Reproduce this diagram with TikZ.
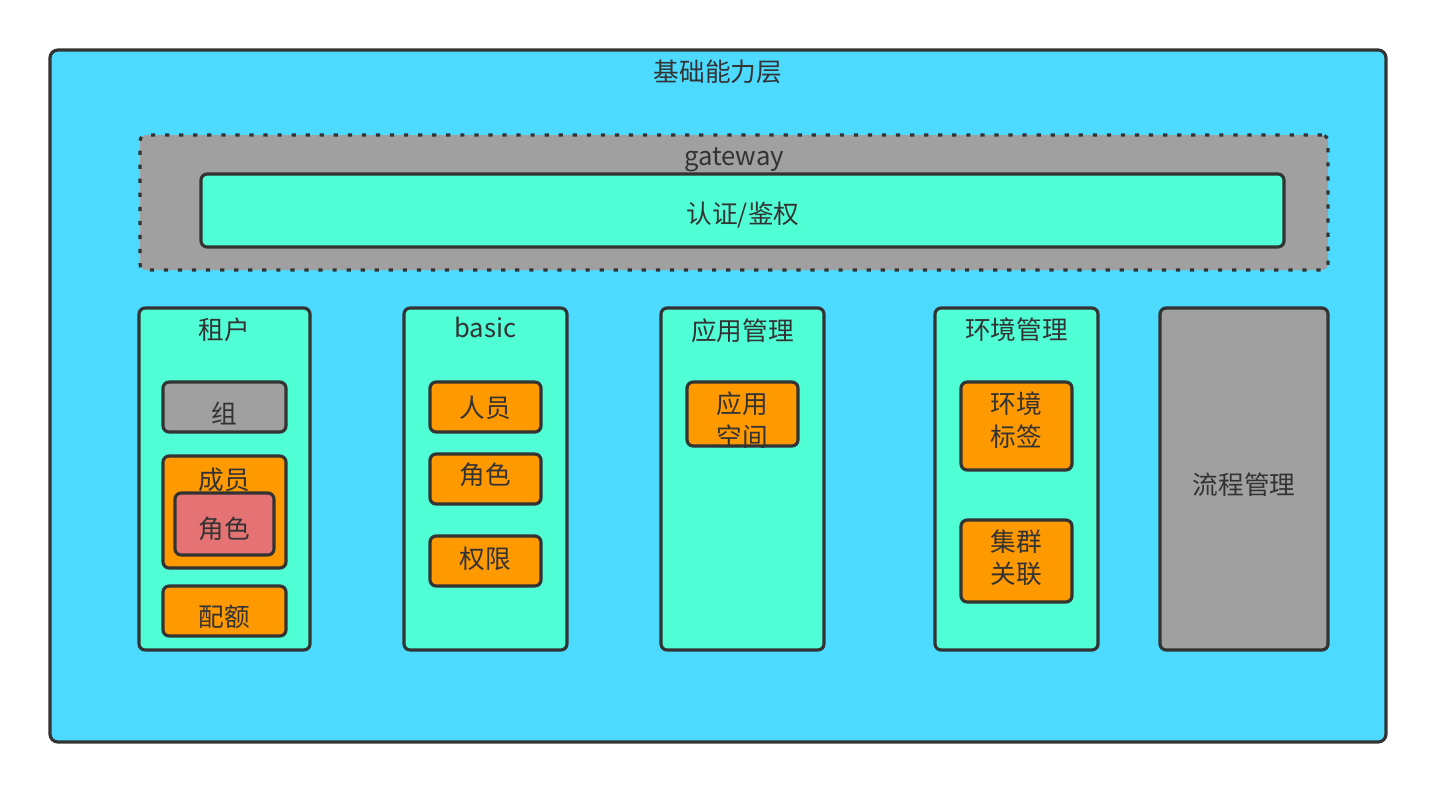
\documentclass[tikz,border=0pt]{standalone}
\usepackage{fontspec}
\newfontfamily\cjk{Noto Sans CJK SC}
\usepackage{tikz}
\usetikzlibrary{fit}
\definecolor{layerblue}{HTML}{4DDAFF}
\definecolor{mint}{HTML}{50FFD5}
\definecolor{greybox}{HTML}{A0A0A0}
\definecolor{orangebox}{HTML}{FF9900}
\definecolor{rosebox}{HTML}{E57373}
\definecolor{edge}{HTML}{333333}

\begin{document}
\begin{tikzpicture}[x=0.02cm, y=-0.02cm,
box/.style={draw=edge, line width=1.8pt, rounded corners=3.5pt, inner sep=0pt},
layer/.style={box, fill=layerblue, rounded corners=4.5pt},
gate/.style={box, fill=greybox, dash pattern=on 2.4pt off 5.6pt},
module/.style={box, fill=mint},
item/.style={box, fill=orangebox},
greyitem/.style={box, fill=greybox},
roleitem/.style={box, fill=rosebox},
title/.style={text=edge, inner sep=0pt, align=center, font=\cjk\fontsize{14.6}{18.5}\selectfont}]

\useasboundingbox (0,0) rectangle (1436,792);

% frames
\node[layer, fit={(50,50) (1386,742)}] (base) {};
\node[gate, fit={(140,135) (1328,270)}] (gw) {};
\node[module, fit={(201,174) (1284,247)}] (auth) {};

\node[module, fit={(139,308) (310,650)}] (tenant) {};
\node[greyitem, fit={(163,382) (286,432)}] (group) {};
\node[item, fit={(163,456) (286,568)}] (member) {};
\node[roleitem, fit={(175,493) (274,555)}] (member-role) {};
\node[item, fit={(163,586) (286,636)}] (quota) {};

\node[module, fit={(404,308) (567,650)}] (basic) {};
\node[item, fit={(430,382) (541,432)}] (person) {};
\node[item, fit={(430,454) (541,504)}] (role) {};
\node[item, fit={(430,536) (541,586)}] (perm) {};

\node[module, fit={(661,308) (824,650)}] (app) {};
\node[item, fit={(687,382) (798,446)}] (space) {};

\node[module, fit={(935,308) (1098,650)}] (env) {};
\node[item, fit={(961,382) (1072,470)}] (envtag) {};
\node[item, fit={(961,520) (1072,602)}] (cluster) {};

\node[greyitem, fit={(1160,308) (1328,650)}] (flow) {};

% texts
\node[title] (base-t) at (718,72) {基础能力层};
\node[title, anchor=base] (gw-t) at (734,165) {gateway};
\node[title] (auth-t) at (743,215) {认证/鉴权};

\node[title] (tenant-t) at (224.5,330) {租户};
\node[title] (group-t) at (224.5,413) {组};
\node[title] (member-t) at (224.5,480) {成员};
\node[title] (member-role-t) at (224.5,529) {角色};
\node[title] (quota-t) at (224.5,617) {配额};

\node[title, anchor=base] (basic-t) at (485.5,337) {basic};
\node[title] (person-t) at (485.5,408) {人员};
\node[title] (role-t) at (485.5,475) {角色};
\node[title] (perm-t) at (485.5,559) {权限};

\node[title] (app-t) at (742.5,331) {应用管理};
\node[title] (space-t) at (742.5,420) {应用\\空间};

\node[title] (env-t) at (1016.5,330) {环境管理};
\node[title] (envtag-t) at (1016.5,420) {环境\\标签};
\node[title] (cluster-t) at (1016.5,558) {集群\\关联};

\node[title] (flow-t) at (1244,485) {流程管理};
\end{tikzpicture}
\end{document}
